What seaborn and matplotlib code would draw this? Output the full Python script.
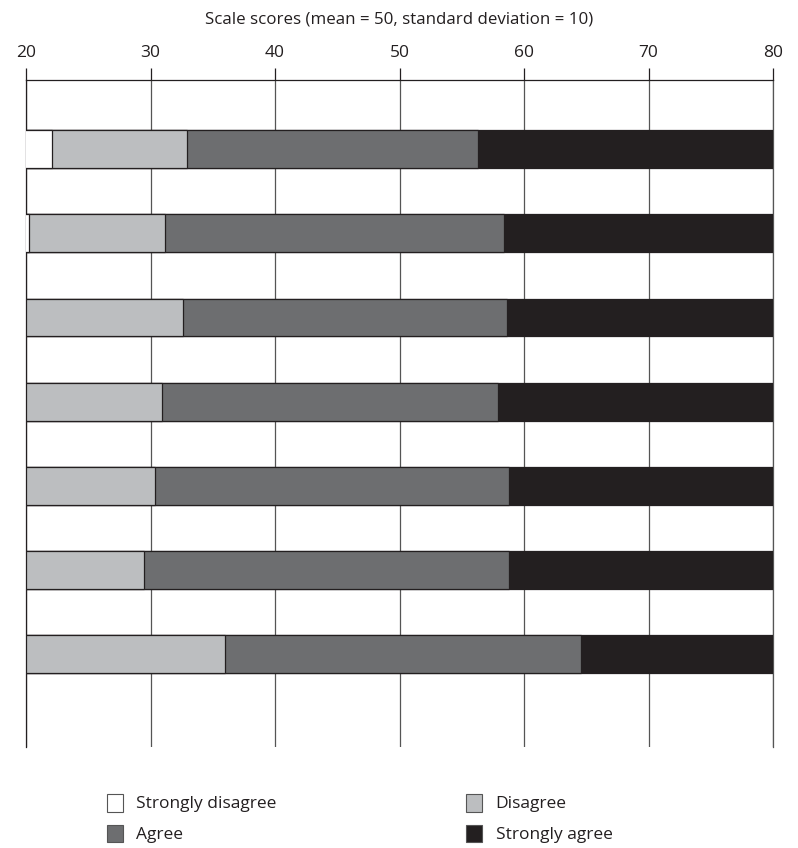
import numpy as np
import pandas as pd
import seaborn as sns
import matplotlib.pyplot as plt
from matplotlib.patches import Patch

# item labels (not shown on the chart)
items = ['Item 1', 'Item 2', 'Item 3', 'Item 4', 'Item 5', 'Item 6', 'Item 7']

# upper boundary of each response category on the scale score axis
strongly_disagree_end = [22.1, 20.2, 20.0, 20.0, 20.0, 20.0, 20.0]
disagree_end = [32.9, 31.2, 32.6, 30.95, 30.4, 29.5, 36.0]
agree_end = [56.3, 58.4, 58.6, 57.9, 58.8, 58.8, 64.6]
strongly_agree_end = [80, 80, 80, 80, 80, 80, 80]

categories = ['Strongly disagree', 'Disagree', 'Agree', 'Strongly agree']
colors = ['#ffffff', '#bcbec0', '#6d6e70', '#231f20']
edge = '#231f20'

df = pd.DataFrame({
    'item': items,
    'Strongly disagree': strongly_disagree_end,
    'Disagree': disagree_end,
    'Agree': agree_end,
    'Strongly agree': strongly_agree_end,
})

sns.set_style('white')
plt.rcParams['font.family'] = ['Open Sans', 'DejaVu Sans']

fig = plt.figure(figsize=(7.98, 8.48), dpi=100)
ax = fig.add_axes([0.0326, 0.1191, 0.9361, 0.7866])

# draw from the longest segment back to the shortest so they stack visually
for cat, col in reversed(list(zip(categories, colors))):
    sns.barplot(data=df, x=cat, y='item', orient='h', color=col,
                width=0.45, edgecolor=edge, linewidth=0.9, saturation=1,
                ax=ax, zorder=3)

ax.set_xlim(20, 80)
ax.set_ylim(7.1, -0.82)
ax.set_xticks([20, 30, 40, 50, 60, 70, 80])
ax.xaxis.tick_top()
ax.xaxis.set_label_position('top')
ax.set_xlabel('Scale scores (mean = 50, standard deviation = 10)', fontsize=12.2,
              labelpad=15, color='#231f20')
ax.set_ylabel('')
ax.set_yticks([])
ax.tick_params(axis='x', which='both', top=True, bottom=False, length=9, width=0.9,
               color='#231f20', labelsize=12.5, pad=5, labelcolor='#231f20')

ax.grid(axis='x', color='#555555', linewidth=0.9, zorder=0)
ax.grid(axis='y', visible=False)
ax.set_axisbelow(True)

for side in ['left', 'right', 'top']:
    ax.spines[side].set_visible(True)
    ax.spines[side].set_color('#231f20')
    ax.spines[side].set_linewidth(0.9)
ax.spines['bottom'].set_visible(False)
ax.spines['right'].set_color('#555555')

# legend ordered to fill two columns like the original
order = [0, 2, 1, 3]
handles = [Patch(facecolor=colors[i], edgecolor='#555555', linewidth=0.8) for i in order]
labels = [categories[i] for i in order]
fig.legend(handles, labels, ncol=2, loc='upper left', bbox_to_anchor=(0.134, 0.064),
           frameon=False, fontsize=12.5, handlelength=0.9, handleheight=1.2,
           handletextpad=0.8, columnspacing=10.9, labelspacing=0.7, borderpad=0,
           borderaxespad=0, labelcolor='#231f20')

fig.savefig('out.png', dpi=100)
